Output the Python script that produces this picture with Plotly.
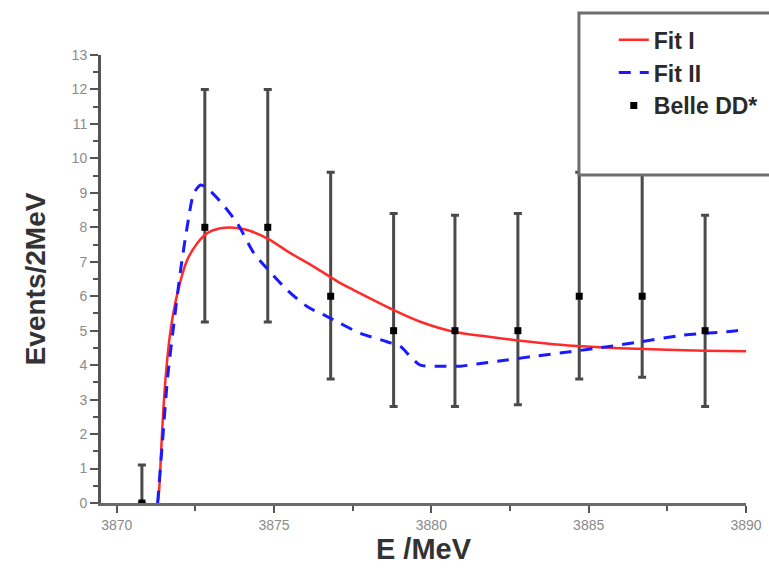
import plotly.graph_objects as go

# Belle DD* data
e_data = [3870.8, 3872.8, 3874.8, 3876.8, 3878.8, 3880.75, 3882.75, 3884.7, 3886.7, 3888.7]
n_data = [0, 8, 8, 6, 5, 5, 5, 6, 6, 5]
n_upper = [1.1, 12.0, 12.0, 9.6, 8.4, 8.35, 8.4, 9.6, 9.6, 8.35]
n_lower = [0.0, 5.25, 5.25, 3.6, 2.8, 2.8, 2.85, 3.6, 3.65, 2.8]

# Fit I (red solid)
e_fit1 = [3871.30, 3871.34, 3871.45, 3871.55, 3871.71, 3871.93, 3872.24, 3872.56, 3872.88,
          3873.30, 3873.72, 3874.15, 3874.78, 3875.52, 3876.26, 3877.11, 3877.53, 3878.80,
          3879.65, 3880.71, 3881.77, 3882.83, 3883.88, 3884.94, 3886.00, 3887.50, 3888.70, 3890.00]
v_fit1 = [0.0, 0.28, 2.2, 3.6, 5.0, 6.09, 7.05, 7.54, 7.83,
          7.97, 7.99, 7.92, 7.68, 7.25, 6.86, 6.38, 6.18, 5.60,
          5.26, 4.97, 4.83, 4.71, 4.61, 4.54, 4.49, 4.45, 4.42, 4.40]

# Fit II (blue dashed)
e_fit2 = [3871.30, 3871.45, 3871.62, 3871.83, 3872.03, 3872.24, 3872.45, 3872.67, 3872.88,
          3873.30, 3873.83, 3874.36, 3874.78, 3875.42, 3876.05, 3876.69, 3877.11, 3877.75,
          3878.59, 3879.02, 3879.33, 3879.65, 3880.18, 3880.92, 3881.56, 3882.40, 3883.36,
          3884.41, 3885.47, 3886.60, 3888.00, 3889.40, 3890.00]
v_fit2 = [0.0, 1.73, 3.67, 5.31, 6.76, 8.02, 8.99, 9.23, 9.13,
          8.74, 8.12, 7.25, 6.80, 6.18, 5.70, 5.41, 5.21, 4.92,
          4.68, 4.54, 4.25, 4.00, 3.97, 3.97, 4.05, 4.15, 4.27,
          4.39, 4.52, 4.67, 4.87, 4.97, 5.03]

x_ticks = [3870, 3875, 3880, 3885, 3890]
x_ticklabels = ["3870", "3875", "3880", "3885", "3890"]
y_ticks = list(range(0, 14))

err_plus = [u - n for u, n in zip(n_upper, n_data)]
err_minus = [n - l for n, l in zip(n_data, n_lower)]

FONT = "Liberation Sans, Arial, sans-serif"

fig = go.Figure()

# error bars (drawn below curves)
fig.add_trace(go.Scatter(
    x=e_data, y=n_data, mode="markers",
    marker=dict(size=1, color="rgba(0,0,0,0)"),
    error_y=dict(type="data", symmetric=False, array=err_plus, arrayminus=err_minus,
                 color="#4a4a4a", thickness=3, width=4),
    showlegend=False, hoverinfo="skip"))

fig.add_trace(go.Scatter(
    x=e_fit1, y=v_fit1, mode="lines", name="Fit I",
    line=dict(color="#ff2a2a", width=2.5, shape="spline", smoothing=0.9)))

fig.add_trace(go.Scatter(
    x=e_fit2, y=v_fit2, mode="lines", name="Fit II",
    line=dict(color="#1a1aff", width=3, dash="12px,9px", shape="spline", smoothing=0.7)))

fig.add_trace(go.Scatter(
    x=e_data, y=n_data, mode="markers", name="Belle DD*",
    marker=dict(symbol="square", size=7, color="black")))

# legend box (extends beyond the right edge)
fig.add_shape(type="rect", xref="paper", yref="paper",
              x0=0.741, x1=1.12, y0=0.732, y1=1.094,
              line=dict(color="#6e6e6e", width=3), fillcolor="white", layer="above")

fig.update_layout(
    width=769, height=570,
    margin=dict(l=101, r=23, t=55, b=67, autoexpand=False),
    paper_bgcolor="white", plot_bgcolor="white",
    font=dict(family=FONT, color="#333"),
    legend=dict(x=0.795, y=1.082, xanchor="left", yanchor="top",
                bgcolor="rgba(0,0,0,0)", borderwidth=0,
                font=dict(family=FONT, size=23, color="#2a2a2a", weight="bold"),
                itemwidth=30),
    xaxis=dict(
        range=[3869.5, 3890], tickvals=x_ticks, ticktext=x_ticklabels,
        showgrid=False, zeroline=False, automargin=False,
        showline=True, linecolor="#6a6a6a", linewidth=3,
        ticks="outside", ticklen=7, tickwidth=2, tickcolor="#555",
        tickfont=dict(family=FONT, size=14, color="#8a8a8a"),
        minor=dict(dtick=2.5, tick0=3870, ticks="outside", ticklen=5, tickwidth=2, tickcolor="#555"),
        title=dict(text="E /MeV", standoff=6,
                   font=dict(family=FONT, size=29, color="#333", weight="bold"))),
    yaxis=dict(
        range=[0, 13], tickvals=y_ticks,
        showgrid=False, zeroline=False, automargin=False,
        showline=True, linecolor="#555", linewidth=3,
        ticks="outside", ticklen=8, tickwidth=2, tickcolor="#555",
        tickfont=dict(family=FONT, size=14, color="#8a8a8a"),
        minor=dict(dtick=0.5, tick0=0, ticks="outside", ticklen=5, tickwidth=2, tickcolor="#555"),
        title=dict(text="Events/2MeV", standoff=18,
                   font=dict(family=FONT, size=28, color="#333", weight="bold"))),
)

fig.write_html("out.html")
